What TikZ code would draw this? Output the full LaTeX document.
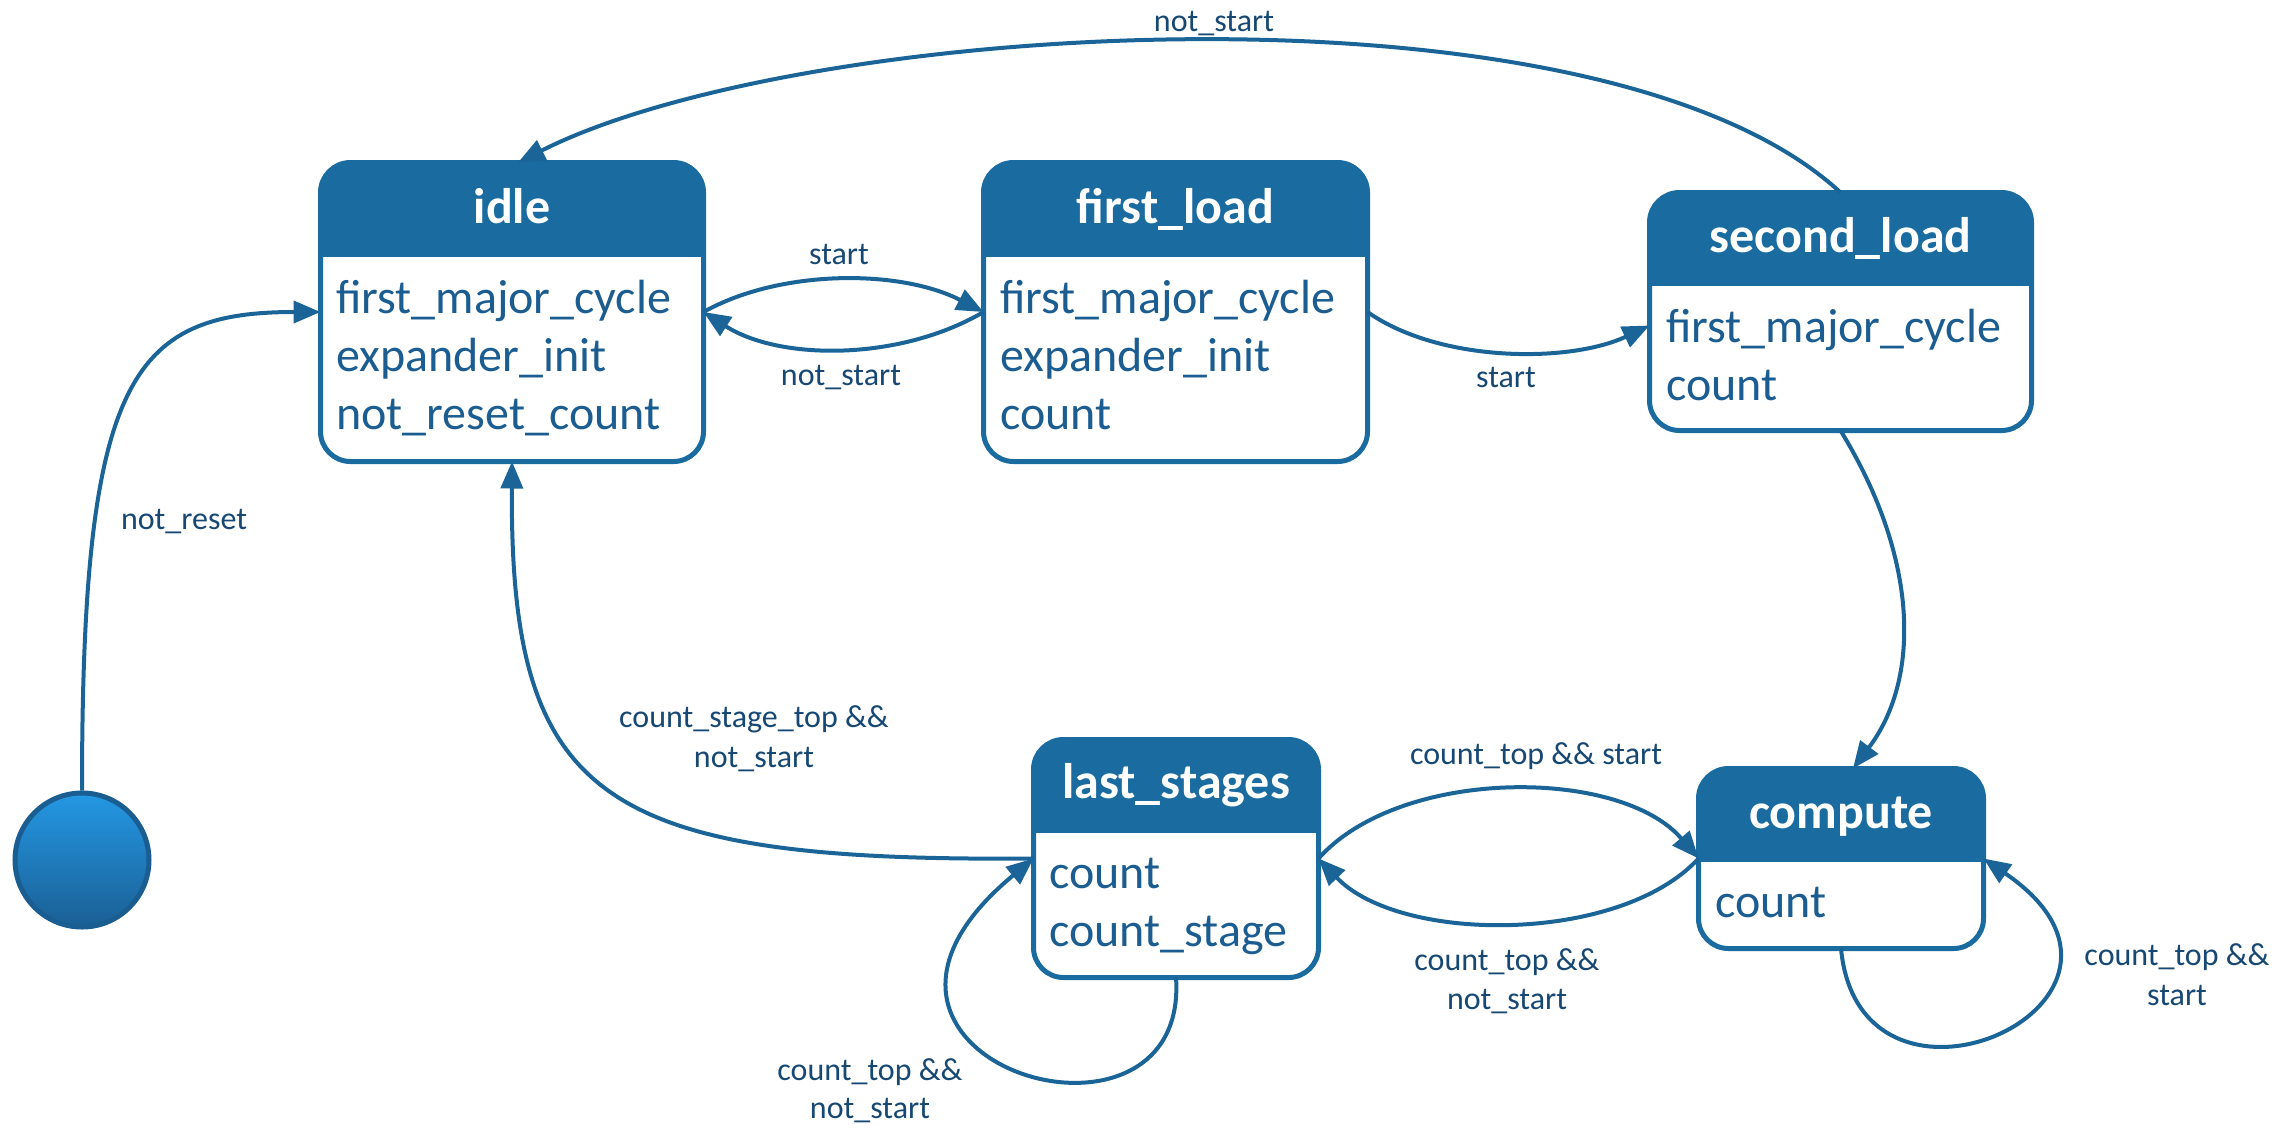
\documentclass[tikz,border=0pt]{standalone}
\usepackage{fontspec}
\setmainfont{Carlito}
\usetikzlibrary{arrows.meta}
\definecolor{hdr}{RGB}{26,107,160}
\definecolor{bodytxt}{RGB}{27,93,145}
\definecolor{lbltxt}{RGB}{22,72,115}
\definecolor{conn}{RGB}{26,100,152}
\definecolor{inittop}{RGB}{36,152,228}
\definecolor{initbot}{RGB}{26,95,148}
\definecolor{initborder}{RGB}{26,94,145}
\newcommand\drawstate[2]{%
  \begin{scope}
    \clip[rounded corners=30pt] (#1.north west) rectangle (#1.south east);
    \fill[hdr] (#1.north west) rectangle (#1.east |- 0,#2);
  \end{scope}
  \draw[border] (#1.north west) rectangle (#1.south east);}
\begin{document}
\begin{tikzpicture}[x=1pt,y=-1pt,
  statebox/.style={rectangle, inner sep=0pt, outer sep=0pt},
  border/.style={draw=hdr, line width=5pt, rounded corners=30pt},
  title/.style={font=\fontsize{50}{60}\selectfont\bfseries, text=white, anchor=base, inner sep=0pt},
  bodyline/.style={font=\fontsize{48}{58}\selectfont, text=bodytxt, anchor=base west, inner sep=0pt},
  lbl/.style={font=\fontsize{32}{40}\selectfont, text=lbltxt, anchor=base, inner sep=0pt},
  arr/.style={draw=conn, line width=4pt, -{Triangle[length=27pt,width=22pt]}},
  line/.style={draw=conn, line width=4pt}]
\useasboundingbox (0,0) rectangle (2286,1136);

% states
\node[statebox, minimum width=383pt, minimum height=299pt] (idle) at (512,312) {};
\node[statebox, minimum width=384pt, minimum height=299pt] (fload) at (1175.5,312) {};
\node[statebox, minimum width=382pt, minimum height=238pt] (sload) at (1840.5,311.5) {};
\node[statebox, minimum width=285pt, minimum height=238pt] (lstages) at (1176,858.5) {};
\node[statebox, minimum width=285pt, minimum height=180pt] (compute) at (1841,858.5) {};
\drawstate{idle}{257}
\drawstate{fload}{257}
\drawstate{sload}{286}
\drawstate{lstages}{833}
\drawstate{compute}{862}

% titles
\node[title] (idleT) at (512,223) {idle};
\node[title] (floadT) at (1175.5,223) {first\_load};
\node[title] (sloadT) at (1840.5,252) {second\_load};
\node[title] (lstagesT) at (1176,798) {last\_stages};
\node[title] (computeT) at (1841,828) {compute};

% body lines
\node[bodyline] (idle1) at (336,313) {first\_major\_cycle};
\node[bodyline] (idle2) at (336,371) {expander\_init};
\node[bodyline] (idle3) at (336,429) {not\_reset\_count};
\node[bodyline] (fload1) at (1000,313) {first\_major\_cycle};
\node[bodyline] (fload2) at (1000,371) {expander\_init};
\node[bodyline] (fload3) at (1000,429) {count};
\node[bodyline] (sload1) at (1666,342) {first\_major\_cycle};
\node[bodyline] (sload2) at (1666,400) {count};
\node[bodyline] (lstages1) at (1049,888) {count};
\node[bodyline] (lstages2) at (1049,946) {count\_stage};
\node[bodyline] (compute1) at (1715,917) {count};

% initial state
\node[circle, minimum size=134pt, inner sep=0pt, top color=inittop, bottom color=initbot,
      draw=initborder, line width=5pt] (init) at (82,860) {};

% connectors
\draw[arr] (init.north) .. controls (82,380) and (130,312) .. (idle.west);
\draw[arr] (idle.east) .. controls (780,269) and (900,269) .. (fload.west);
\draw[arr] (fload.west) .. controls (900,361) and (780,361) .. (idle.east);
\draw[arr] (fload.east) .. controls (1440,363) and (1570,363) .. ([yshift=-14pt]sload.west);
\draw[arr] (sload.north) .. controls (1600,-30) and (800,20) .. ([xshift=6pt]idle.north);
\draw[arr] (sload.south) .. controls (1920,560) and (1920,680) .. ([xshift=12pt]compute.north);
\draw[arr] (lstages.west) .. controls (600,862) and (510,800) .. (idle.south);
\draw[arr] (lstages.south) .. controls (1190,1180) and (790,1060) .. (lstages.west);
\draw[arr] (lstages.east) .. controls (1400,767) and (1620,767) .. (compute.west);
\draw[arr] (compute.west) .. controls (1620,944) and (1400,944) .. (lstages.east);
\draw[arr] (compute.south) .. controls (1860,1150) and (2190,1000) .. (compute.east);

% labels
\node[lbl] (l1) at (184,529) {not\_reset};
\node[lbl] (l2) at (839,264) {start};
\node[lbl] (l3) at (841,385) {not\_start};
\node[lbl] (l4) at (1506,387) {start};
\node[lbl] (l5) at (1214,31) {not\_start};
\node[lbl] (l6a) at (754,727) {count\_stage\_top \&\&};
\node[lbl] (l6b) at (754,767) {not\_start};
\node[lbl] (l7a) at (870,1080) {count\_top \&\&};
\node[lbl] (l7b) at (870,1118) {not\_start};
\node[lbl] (l8) at (1536,764) {count\_top \&\& start};
\node[lbl] (l9a) at (1507,970) {count\_top \&\&};
\node[lbl] (l9b) at (1507,1009) {not\_start};
\node[lbl] (l10a) at (2177,965) {count\_top \&\&};
\node[lbl] (l10b) at (2177,1005) {start};
\end{tikzpicture}
\end{document}
